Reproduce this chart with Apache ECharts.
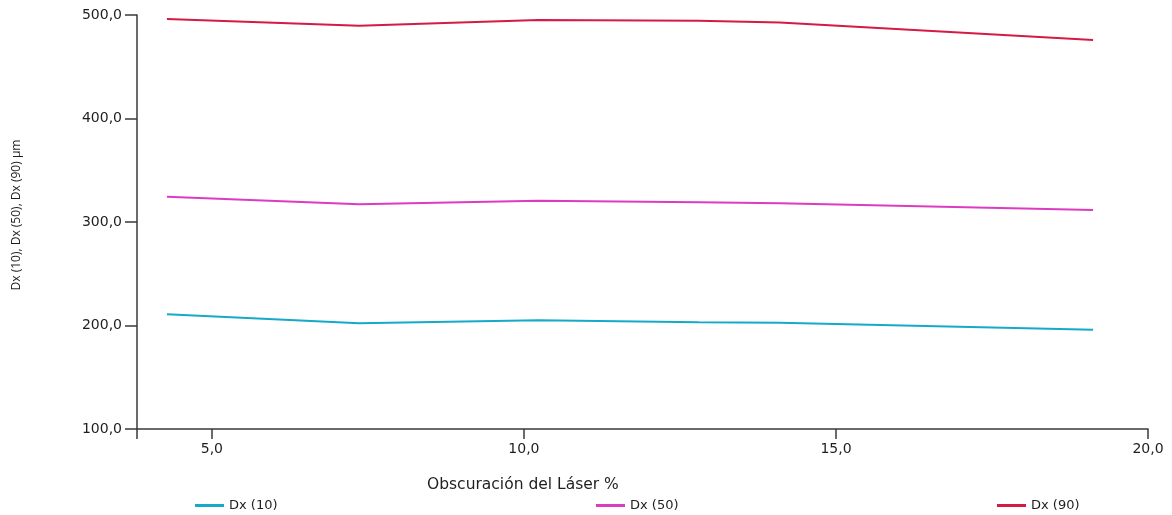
<!DOCTYPE html>
<html>
<head>
<meta charset="utf-8">
<script src="https://cdn.jsdelivr.net/npm/echarts@6/dist/echarts.min.js"></script>
<style>
  html, body { margin: 0; padding: 0; background: #fff; }
  #chart { width: 1172px; height: 515px; }
</style>
</head>
<body>
<div id="chart"></div>
<script>
// Laser obscuration (%) for each measurement
const obscuration = [4.28, 7.36, 10.23, 12.8, 14.1, 19.12];
// Particle size percentiles, µm
const dx10 = [210.8, 202.1, 205.0, 203.2, 202.6, 196.0];
const dx50 = [324.4, 317.1, 320.5, 319.1, 318.0, 311.6];
const dx90 = [496.1, 489.7, 495.2, 494.5, 492.8, 475.8];

const seriesNames = ['Dx (10)', 'Dx (50)', 'Dx (90)'];
const seriesColors = ['#14aac8', '#dc3cc0', '#d41a45'];
const xTickValues = [3.8, 5, 10, 15, 20];
const xLabelValues = [5, 10, 15, 20];

const comma = v => Number(v).toFixed(1).replace('.', ',');
const pairs = ys => obscuration.map((x, i) => [x, ys[i]]);

const textColor = '#1e1e1e';
const axisColor = '#3a3a3a';
const wideFont = '"DejaVu Sans", sans-serif';
const narrowFont = '"Open Sans", "Noto Sans", sans-serif';

const chart = echarts.init(document.getElementById('chart'));

function legendAt(name, left) {
  return {
    data: [name],
    left: left,
    top: 499,
    icon: 'rect',
    itemWidth: 29,
    itemHeight: 3,
    itemGap: 0,
    textStyle: { fontFamily: wideFont, fontSize: 13, color: textColor },
    padding: 0
  };
}

chart.setOption({
  animation: false,
  backgroundColor: '#ffffff',
  grid: { left: 137, right: 24, top: 15, bottom: 86 },
  legend: [
    legendAt(seriesNames[0], 195),
    legendAt(seriesNames[1], 596),
    legendAt(seriesNames[2], 997)
  ],
  graphic: [{
    type: 'text',
    left: 427,
    top: 477,
    style: {
      text: 'Obscuración del Láser %',
      fontFamily: wideFont,
      fontSize: 15.5,
      fill: textColor
    }
  }],
  xAxis: {
    type: 'value',
    min: 3.8,
    max: 20,
    axisLine: { lineStyle: { color: axisColor, width: 1.5 } },
    axisTick: { show: true, length: 10, lineStyle: { color: axisColor, width: 1.5 }, customValues: xTickValues },
    axisLabel: {
      customValues: xLabelValues,
      formatter: comma,
      margin: 13,
      fontFamily: wideFont,
      fontSize: 14,
      color: textColor
    },
    splitLine: { show: false }
  },
  yAxis: {
    type: 'value',
    min: 100,
    max: 500,
    interval: 100,
    name: 'Dx (10), Dx (50), Dx (90) µm',
    nameLocation: 'middle',
    nameGap: 114,
    nameRotate: 90,
    nameTextStyle: { fontFamily: narrowFont, fontSize: 12, color: textColor, padding: [0, 0, 0, 14] },
    axisLine: { show: true, lineStyle: { color: axisColor, width: 1.5 } },
    axisTick: { show: true, length: 12, lineStyle: { color: axisColor, width: 1.5 } },
    axisLabel: { formatter: comma, margin: 15, fontFamily: wideFont, fontSize: 14, color: textColor },
    splitLine: { show: false }
  },
  series: [dx10, dx50, dx90].map((ys, i) => ({
    name: seriesNames[i],
    type: 'line',
    data: pairs(ys),
    showSymbol: false,
    symbol: 'none',
    color: seriesColors[i],
    lineStyle: { color: seriesColors[i], width: 2 }
  }))
});
</script>
</body>
</html>
